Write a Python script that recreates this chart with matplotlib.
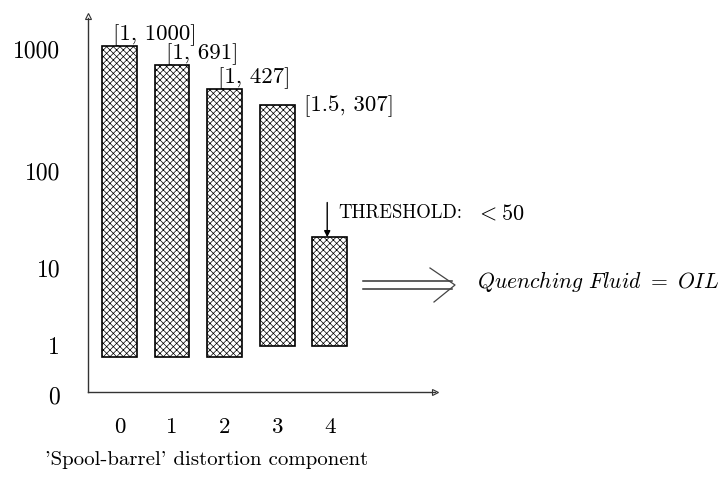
import matplotlib
matplotlib.use("Agg")
import matplotlib.pyplot as plt
from matplotlib.lines import Line2D
from matplotlib.transforms import ScaledTranslation
import numpy as np

plt.rcParams['font.family'] = ['cmr10', 'DejaVu Serif']
plt.rcParams['mathtext.fontset'] = 'cm'
plt.rcParams['hatch.linewidth'] = 0.5
plt.rcParams['axes.unicode_minus'] = False

# data
components = [0, 1, 2, 3, 4]
low = [1, 1, 1, 1.5, 1.5]
high = [1000, 691, 427, 307, 21]
bar_labels = ["[1, 1000]", "[1, 691]", "[1, 427]", "[1.5, 307]", ""]
y_ticks = [0, 1, 10, 100, 1000]
threshold = 50

W, H = 725, 479


def fx(px):
    return px / W


def fy(py):
    return 1 - py / H


fig = plt.figure(figsize=(W / 100, H / 100), dpi=100)
ax = fig.add_axes([fx(88), fy(392), (435 - 88) / W, (392 - 18) / H])

# hand drawn "log" axis: position ~ log10(1 + v)
ax.set_yscale('function', functions=(lambda v: np.log10(1 + np.clip(v, 0, None)),
                                     lambda t: 10 ** t - 1))

width = 0.66
heights = [h - l for h, l in zip(high, low)]
ax.bar(components, heights, bottom=low, width=width, color='white',
       edgecolor='black', linewidth=1.2, hatch='xxxxx')

ax.set_xlim(-0.6, 6.0)
ax.set_ylim(0, 10 ** 3.244 - 1)

ax.set_xticks(components)
ax.set_xticklabels([str(c) for c in components], fontsize=16.5)
ax.set_yticks(y_ticks)
ax.set_yticklabels([str(v) for v in y_ticks], fontsize=17)
ax.tick_params(axis='x', length=0, pad=18)
ax.tick_params(axis='y', length=0, pad=20)
ax.minorticks_off()

# the y labels of the sketch do not sit exactly on the bar scale
nudge = {0: -3, 1: 12, 10: 4, 100: -10, 1000: -3}
for v, lab in zip(y_ticks, ax.get_yticklabels()):
    lab.set_transform(lab.get_transform() +
                      ScaledTranslation(0, nudge[v] / 100, fig.dpi_scale_trans))

for s in ['top', 'right']:
    ax.spines[s].set_visible(False)
for s in ['left', 'bottom']:
    ax.spines[s].set_linewidth(1.0)
    ax.spines[s].set_color('#333333')

# open arrow heads on the axes
ax.plot(0, 1.005, marker='^', ms=4, mfc='white', mec='#333333', mew=0.8,
        transform=ax.transAxes, clip_on=False)
ax.plot(1.0, 0, marker='>', ms=4, mfc='white', mec='#333333', mew=0.8,
        transform=ax.transAxes, clip_on=False)

# bar labels
for i, lab in enumerate(bar_labels):
    if not lab:
        continue
    if i < 3:
        ax.annotate(lab, xy=(components[i] - width / 2, high[i]),
                    xytext=(8, 0), textcoords='offset points',
                    ha='left', va='bottom', fontsize=16.5, annotation_clip=False)
    else:
        ax.annotate(lab, xy=(components[i] + width / 2, high[i]),
                    xytext=(7, -1), textcoords='offset points',
                    ha='left', va='center', fontsize=16.5, annotation_clip=False)

# threshold marker
ax.annotate('', xy=(components[4] - 0.05, high[4]), xytext=(0, 25),
            textcoords='offset points', annotation_clip=False,
            arrowprops=dict(arrowstyle='-|>', color='black', lw=1,
                            mutation_scale=9, shrinkA=0, shrinkB=0))
fig.text(fx(338), fy(213), 'THRESHOLD:', ha='left', va='center',
         fontsize=13.5)
fig.text(fx(476), fy(213), r'$<%d$' % threshold, ha='left', va='center',
         fontsize=16)

# double arrow
for yy in (281, 289):
    fig.add_artist(Line2D([fx(363), fx(452)], [fy(yy), fy(yy)],
                          transform=fig.transFigure, color='#333333', lw=1.1))
fig.add_artist(Line2D([fx(430), fx(455), fx(434)], [fy(268), fy(285), fy(302)],
                      transform=fig.transFigure, color='#444444', lw=0.9))
fig.text(fx(477), fy(282), r'$Quenching\ Fluid\ =\ OIL$', ha='left',
         va='center', fontsize=15.6)

fig.text(fx(45), fy(460), "'Spool-barrel' distortion component",
         ha='left', va='center', fontsize=15)

fig.savefig('out.png', dpi=100)
